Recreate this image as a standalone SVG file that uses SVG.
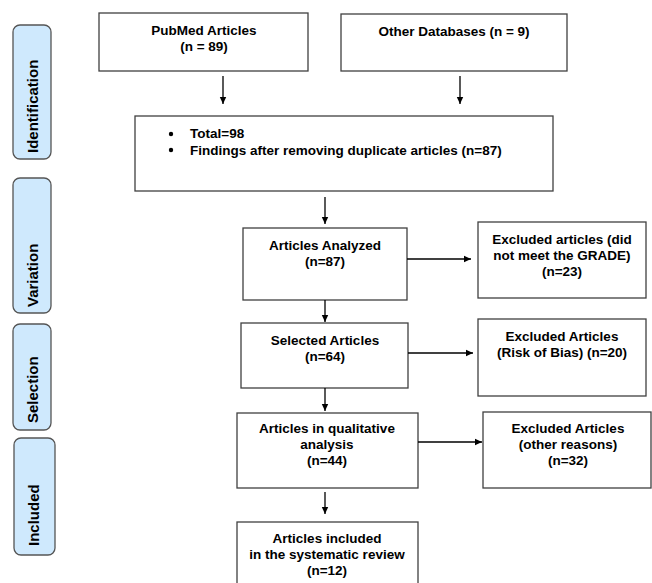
<svg xmlns="http://www.w3.org/2000/svg" width="652" height="583" viewBox="0 0 652 583">
<defs>
<marker id="ah" markerWidth="8" markerHeight="8" refX="7" refY="4" orient="auto" markerUnits="userSpaceOnUse">
<path d="M0,0.8 L7,4 L0,7.2 Z" fill="#000"/>
</marker>
<style>
.box{fill:#fff;stroke:#404040;stroke-width:1.3}
.side{fill:#cfe9fd;stroke:#555;stroke-width:1.3}
.t{font-family:"Liberation Sans",Arial,sans-serif;font-weight:bold;font-size:13.5px;fill:#000;text-anchor:middle}
.tl{font-family:"Liberation Sans",Arial,sans-serif;font-weight:bold;font-size:13.5px;fill:#000}
.st{font-family:"Liberation Sans",Arial,sans-serif;font-weight:bold;font-size:15px;fill:#000}
.c{stroke:#000;stroke-width:1.3;fill:none}
</style>
</defs>
<rect width="652" height="583" fill="#fff"/>
<g id="stage-identification"><rect class="side" x="13" y="25" width="38" height="134" rx="7"/><text class="st" transform="translate(38,153) rotate(-90)">Identification</text></g>
<g id="stage-variation"><rect class="side" x="13" y="178" width="38" height="135" rx="7"/><text class="st" transform="translate(38,307) rotate(-90)">Variation</text></g>
<g id="stage-selection"><rect class="side" x="13" y="324" width="38" height="106" rx="7"/><text class="st" transform="translate(38,423) rotate(-90)">Selection</text></g>
<g id="stage-included"><rect class="side" x="14" y="438" width="41" height="117" rx="7"/><text class="st" transform="translate(39,546) rotate(-90)">Included</text></g>

<g id="pubmed"><rect class="box" x="99" y="13" width="209" height="58"/><text class="t" x="204" y="35">PubMed Articles</text><text class="t" x="204" y="51">(n = 89)</text></g>
<g id="otherdb"><rect class="box" x="341" y="14" width="226" height="57"/><text class="t" x="454" y="36">Other Databases (n = 9)</text></g>
<g id="total"><rect class="box" x="135" y="116" width="418" height="75"/>
<circle cx="171" cy="134" r="2.2" fill="#000"/><text class="tl" x="190" y="138">Total=98</text>
<circle cx="171" cy="150" r="2.2" fill="#000"/><text class="tl" x="190" y="155">Findings after removing duplicate articles (n=87)</text></g>
<g id="analyzed"><rect class="box" x="243" y="228" width="164" height="72"/><text class="t" x="325" y="250">Articles Analyzed</text><text class="t" x="325" y="266">(n=87)</text></g>
<g id="excl-grade"><rect class="box" x="478" y="222" width="168" height="76"/><text class="t" x="562" y="244">Excluded articles (did</text><text class="t" x="562" y="260">not meet the GRADE)</text><text class="t" x="562" y="276">(n=23)</text></g>
<g id="selected"><rect class="box" x="241" y="323" width="167" height="65"/><text class="t" x="325" y="345">Selected Articles</text><text class="t" x="325" y="361">(n=64)</text></g>
<g id="excl-bias"><rect class="box" x="478" y="319" width="168" height="77"/><text class="t" x="562" y="341">Excluded Articles</text><text class="t" x="562" y="357">(Risk of Bias) (n=20)</text></g>
<g id="qualitative"><rect class="box" x="237" y="413" width="181" height="75"/><text class="t" x="327" y="433">Articles in qualitative</text><text class="t" x="327" y="449">analysis</text><text class="t" x="327" y="465">(n=44)</text></g>
<g id="excl-other"><rect class="box" x="483" y="412" width="168" height="76"/><text class="t" x="568" y="433">Excluded Articles</text><text class="t" x="568" y="449">(other reasons)</text><text class="t" x="568" y="465">(n=32)</text></g>
<g id="included"><rect class="box" x="237" y="522" width="181" height="70"/><text class="t" x="327" y="543">Articles included</text><text class="t" x="327" y="559">in the systematic review</text><text class="t" x="327" y="575">(n=12)</text></g>

<g id="connectors">
<line class="c" x1="223" y1="76" x2="223" y2="104" marker-end="url(#ah)"/>
<line class="c" x1="460" y1="76" x2="460" y2="104" marker-end="url(#ah)"/>
<line class="c" x1="325" y1="197" x2="325" y2="224" marker-end="url(#ah)"/>
<line class="c" x1="325" y1="300" x2="325" y2="322" marker-end="url(#ah)"/>
<line class="c" x1="325" y1="388" x2="325" y2="411" marker-end="url(#ah)"/>
<line class="c" x1="325" y1="492" x2="325" y2="514" marker-end="url(#ah)"/>
<line class="c" x1="407" y1="259" x2="471" y2="259" marker-end="url(#ah)"/>
<line class="c" x1="408" y1="353" x2="473" y2="353" marker-end="url(#ah)"/>
<line class="c" x1="418" y1="442" x2="482" y2="442" marker-end="url(#ah)"/>
</g>
</svg>
